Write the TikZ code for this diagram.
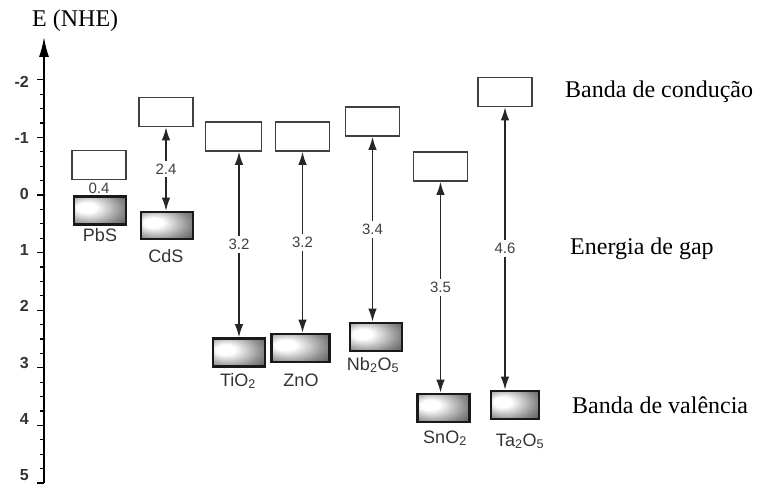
\documentclass[tikz,border=0pt]{standalone}
\usepackage{fontspec}
\setmainfont{Liberation Serif}
\setsansfont{Liberation Sans}
\usetikzlibrary{arrows.meta}

% sombreado das caixas da banda de valencia
\pgfdeclareradialshading{vbshade}{\pgfpoint{-15bp}{6bp}}{color(0bp)=(white); color(9bp)=(white); color(30bp)=(black!45); color(50bp)=(black!80); color(70bp)=(black)}

\begin{document}
\begin{tikzpicture}[x=1pt, y=-1pt,
    cband/.style={rectangle, draw=black!75, fill=white, line width=1.6pt, minimum width=54pt, minimum height=29pt, inner sep=0pt},
    vband/.style={rectangle, draw=black!90, shade, shading=vbshade, line width=2.6pt, minimum width=52pt, minimum height=28pt, inner sep=0pt},
    gap/.style={<->, >={Latex[length=13pt,width=8.5pt]}, line width=1.4pt, draw=black!85},
    axis/.style={->, >={Latex[length=20pt,width=10pt]}, line width=1.8pt},
    gapnum/.style={fill=white, inner sep=3pt, font=\fontsize{15}{17}\selectfont\sffamily, text=black!75},
    matlabel/.style={anchor=base, inner sep=0pt, font=\fontsize{18}{20}\selectfont\sffamily, text=black!80},
    ticklabel/.style={anchor=east, inner sep=0pt, font=\fontsize{16}{18}\selectfont\sffamily\bfseries, text=black!80},
    sidetext/.style={anchor=base west, inner sep=0pt, font=\fontsize{24}{28}\selectfont}
]
\useasboundingbox (0,0) rectangle (763,486);

% Eixo de energia (y = 195 + 57.6 E)
\coordinate (axisbot) at (44,483);
\coordinate (axistop) at (44,37);
\draw[axis] (axisbot) -- (axistop);
\foreach \e in {-2,-1.75,...,5.01} \draw[line width=1.2pt] (40,{195+57.6*\e}) -- (44,{195+57.6*\e});
\foreach \e [count=\i] in {-2,...,5} {
  \draw[line width=1.2pt] (37,{195+57.6*\e}) -- (44,{195+57.6*\e});
  \node[ticklabel] (tick\i) at (29,{194+56.2*\e}) {\e};
}
\node[sidetext] (ylabel) at (32,27) {E (NHE)};

% Banda de conducao
\node[cband] (pbscb)  at (99,165)     {};
\node[cband] (cdscb)  at (166,112)    {};
\node[cband, minimum width=56pt] (tio2cb) at (233.5,136.5) {};
\node[cband] (znocb)  at (302.5,136.5) {};
\node[cband] (nbcb)   at (372.5,121.5) {};
\node[cband] (sncb)   at (440.5,166.5) {};
\node[cband] (tacb)   at (505,92)     {};

% Banda de valencia
\node[vband] (pbsvb)  at (100,210.5)  {};
\node[vband, minimum height=27pt] (cdsvb) at (167,225.5) {};
\node[vband] (tio2vb) at (239,352.5)  {};
\node[vband, minimum width=58pt] (znovb) at (300.5,348) {};
\node[vband] (nbvb)   at (376,337)    {};
\node[vband] (snvb)   at (443.5,408)  {};
\node[vband, minimum width=48pt] (tavb) at (515,405) {};

% Energia de gap
\node[gapnum, fill=none, inner sep=0pt] (pbsgap) at (99,188) {0.4};
\draw[gap] (cdscb.south)  -- node[gapnum] {2.4} (cdscb.south |- cdsvb.north);
\draw[gap] (tio2vb.north |- tio2cb.south) -- node[gapnum] {3.2} (tio2vb.north);
\draw[gap] (znocb.south)  -- node[gapnum] {3.2} (znocb.south |- znovb.north);
\draw[gap] (nbcb.south)   -- node[gapnum] {3.4} (nbcb.south |- nbvb.north);
\draw[gap] (sncb.south)   -- node[gapnum] {3.5} (sncb.south |- snvb.north);
\draw[gap] (tacb.south)   -- node[gapnum] {4.6} (tacb.south |- tavb.north);

% Materiais
\node[matlabel] (pbs)  at (100,242) {PbS};
\node[matlabel] (cds)  at (166,263) {CdS};
\node[matlabel] (tio2) at (238,386) {TiO\textsubscript{2}};
\node[matlabel] (zno)  at (301,386) {ZnO};
\node[matlabel] (nb)   at (373,370) {Nb\textsubscript{2}O\textsubscript{5}};
\node[matlabel] (sn)   at (445,443) {SnO\textsubscript{2}};
\node[matlabel] (ta)   at (520,446) {Ta\textsubscript{2}O\textsubscript{5}};

% Legendas
\node[sidetext] (cbtext)  at (565,98)  {Banda de condução};
\node[sidetext] (gaptext) at (570,255) {Energia de gap};
\node[sidetext] (vbtext)  at (572,413) {Banda de valência};

\end{tikzpicture}
\end{document}
